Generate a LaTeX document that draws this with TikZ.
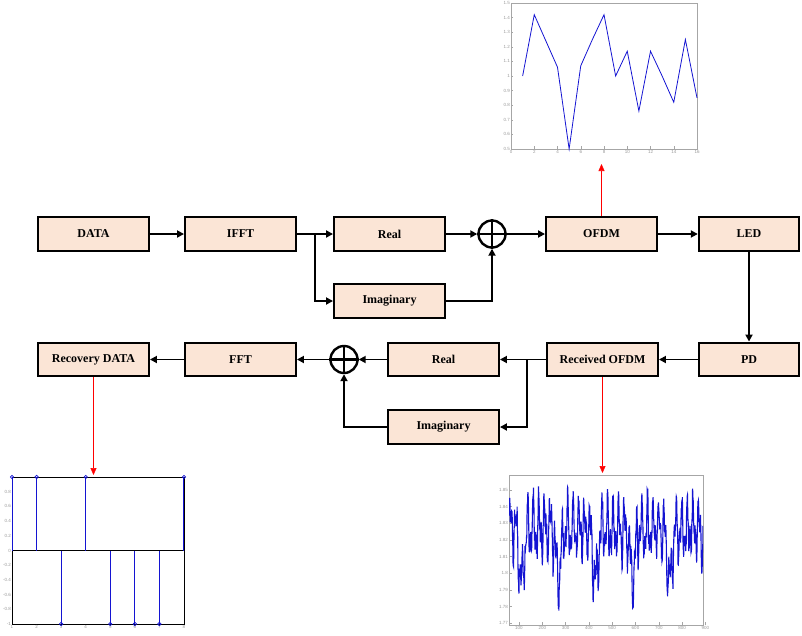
\documentclass[tikz,border=0pt]{standalone}
\usepackage{fontspec}
\setmainfont{Liberation Serif}
\newfontfamily\axisfont{Liberation Sans}
\usetikzlibrary{arrows.meta}

\definecolor{peche}{HTML}{FBE5D6}
\definecolor{bleutrace}{HTML}{1414D2}

\tikzset{bloc/.style = {draw, line width=2.4pt, fill=peche, inner sep=0pt,
                        minimum width=#1, minimum height=33.5pt,
                        font=\fontsize{12}{14}\selectfont\bfseries},
         bloc/.default=110.5pt,
         somme/.style = {draw, circle, line width=2.4pt, minimum size=27pt, inner sep=0pt},
         fleche/.style = {line width=1.8pt, -{Triangle[length=7pt,width=7pt]}},
         sonde/.style = {red, line width=0.6pt, -{Triangle[length=7pt,width=6pt]}},
         cadre/.style = {draw=gray!70, line width=0.5pt},
         graduation/.style = {font=\axisfont\fontsize{4.5}{5}\selectfont, text=gray!80, inner sep=1pt},
         courbe/.style = {bleutrace, line width=0.8pt}
        }

\begin{document}
\begin{tikzpicture}[x=1pt, y=-1pt]
  \useasboundingbox (0,0) rectangle (802,635);

  \node[bloc] (data)  at (93.5,234)   {DATA};
  \node[bloc] (ifft)  at (240.5,234)  {IFFT};
  \node[bloc] (reel)  at (389.5,234)  {Real};
  \node[bloc] (imag)  at (389.5,301)  {Imaginary};
  \node[somme] (s1)   at (492,234)    {};
  \node[bloc] (ofdm)  at (601.5,234)  {OFDM};
  \node[bloc=100pt] (led) at (749,234)   {LED};
  \node[bloc=100pt] (pd)  at (749,359.5) {PD};
  \node[bloc] (rofdm) at (602.5,359.5) {Received OFDM};
  \node[bloc] (reel2) at (443.5,359.5) {Real};
  \node[bloc] (imag2) at (443.5,427)   {Imaginary};
  \node[somme] (s2)   at (344,359.5)   {};
  \node[bloc] (fft)   at (240.5,359.5) {FFT};
  \node[bloc] (recup) at (93.5,359.5)  {Recovery DATA};

  \draw[line width=2.4pt] (s1.north) -- (s1.south) (s1.west) -- (s1.east);
  \draw[line width=2.4pt] (s2.north) -- (s2.south) (s2.west) -- (s2.east);

  \coordinate (j1) at (315,234);
  \coordinate (j2) at (527,359.5);
  \draw[fleche] (data) -- (ifft);
  \draw[fleche] (ifft) -- (reel);
  \draw[fleche] (j1) |- (imag);
  \draw[fleche] (reel) -- (s1);
  \draw[fleche] (imag) -| (s1);
  \draw[fleche] (s1) -- (ofdm);
  \draw[fleche] (ofdm) -- (led);
  \draw[fleche] (led) -- (pd);
  \draw[fleche] (pd) -- (rofdm);
  \draw[fleche] (rofdm) -- (reel2);
  \draw[fleche] (j2) |- (imag2);
  \draw[fleche] (reel2) -- (s2);
  \draw[fleche] (imag2) -| (s2);
  \draw[fleche] (s2) -- (fft);
  \draw[fleche] (fft) -- (recup);

  \coordinate (p1) at (601.5,164);
  \coordinate (p2) at (602.5,473);
  \coordinate (p3) at (93.5,475);
  \draw[sonde] (ofdm) -- (p1);
  \draw[sonde] (rofdm) -- (p2);
  \draw[sonde] (recup) -- (p3);

  % signal OFDM emis
  \begin{scope}[shift={(511,149)}, x=11.625pt, y=146pt]
    \draw[cadre] (0,0) rectangle (16,1);
    \foreach \t in {0,2,...,16} {
      \draw[cadre] (\t,0) -- ++(0,0.02);
      \node[graduation, below] at (\t,0) {\t};
    }
    \foreach \v [count=\k from 0] in {0.5,0.6,0.7,0.8,0.9,1,1.1,1.2,1.3,1.4,1.5} {
      \draw[cadre] (0,\k/10) -- ++(0.2,0);
      \node[graduation, left] at (0,\k/10) {\v};
    }
    \draw[courbe] plot coordinates {(1,0.5) (2,0.92) (3,0.74) (4,0.56) (5,0) (6,0.57)
                                    (7,0.75) (8,0.92) (9,0.5) (10,0.67) (11,0.26) (12,0.67)
                                    (13,0.5) (14,0.32) (15,0.75) (16,0.35)};
  \end{scope}

  % donnees recuperees
  \begin{scope}[shift={(-12.57,550.5)}, x=24.57pt, y=73.5pt]
    \draw[black, line width=0.6pt] (1,-1) rectangle (8,1);
    \draw[black, line width=0.8pt] (1,0) -- (8,0);
    \foreach \t in {1,...,8} {
      \node[graduation, below] at (\t,-1) {\t};
    }
    \foreach \v in {-1,-0.8,-0.6,-0.4,-0.2,0,0.2,0.4,0.6,0.8} {
      \node[graduation, left] at (1,\v) {\v};
    }
    \foreach \t/\v in {1/1,2/1,3/-1,4/1,5/-1,6/-1,7/-1,8/1} {
      \draw[courbe, line width=1pt] (\t,0) -- (\t,\v);
      \draw[courbe, line width=0.7pt] (\t,\v) circle (1.7pt);
    }
  \end{scope}

  % signal OFDM recu
  \begin{scope}[shift={(509,625)}, x=194pt, y=150pt]
    \draw[cadre] (0,0) rectangle (1,1);
    \foreach \v [count=\k from 0] in {1.77,1.78,1.79,1.8,1.81,1.82,1.83,1.84,1.85} {
      \draw[cadre] (0,0.011+0.1111*\k) -- ++(0.015,0);
      \node[graduation, left] at (0,0.011+0.1111*\k) {\v};
    }
    \foreach \v [count=\k from 0] in {100,200,...,900} {
      \draw[cadre] (0.0515+0.1201*\k,0) -- ++(0,0.02);
      \node[graduation, below] at (0.0515+0.1201*\k,0) {\v};
    }
    \begin{scope}
      \clip (0,0) rectangle (1,1);
      \pgfmathsetseed{7}
      \draw[courbe, line width=1.1pt] plot[domain=0:1, samples=760]
        (\x, {0.64 - 0.34*(cos(180*(\x-0.064)/0.191))^24 + 0.14*sin(360*frac(34*\x))
              + 0.1*sin(360*frac(73*\x)+50) + 0.06*rand});
    \end{scope}
  \end{scope}
\end{tikzpicture}
\end{document}
